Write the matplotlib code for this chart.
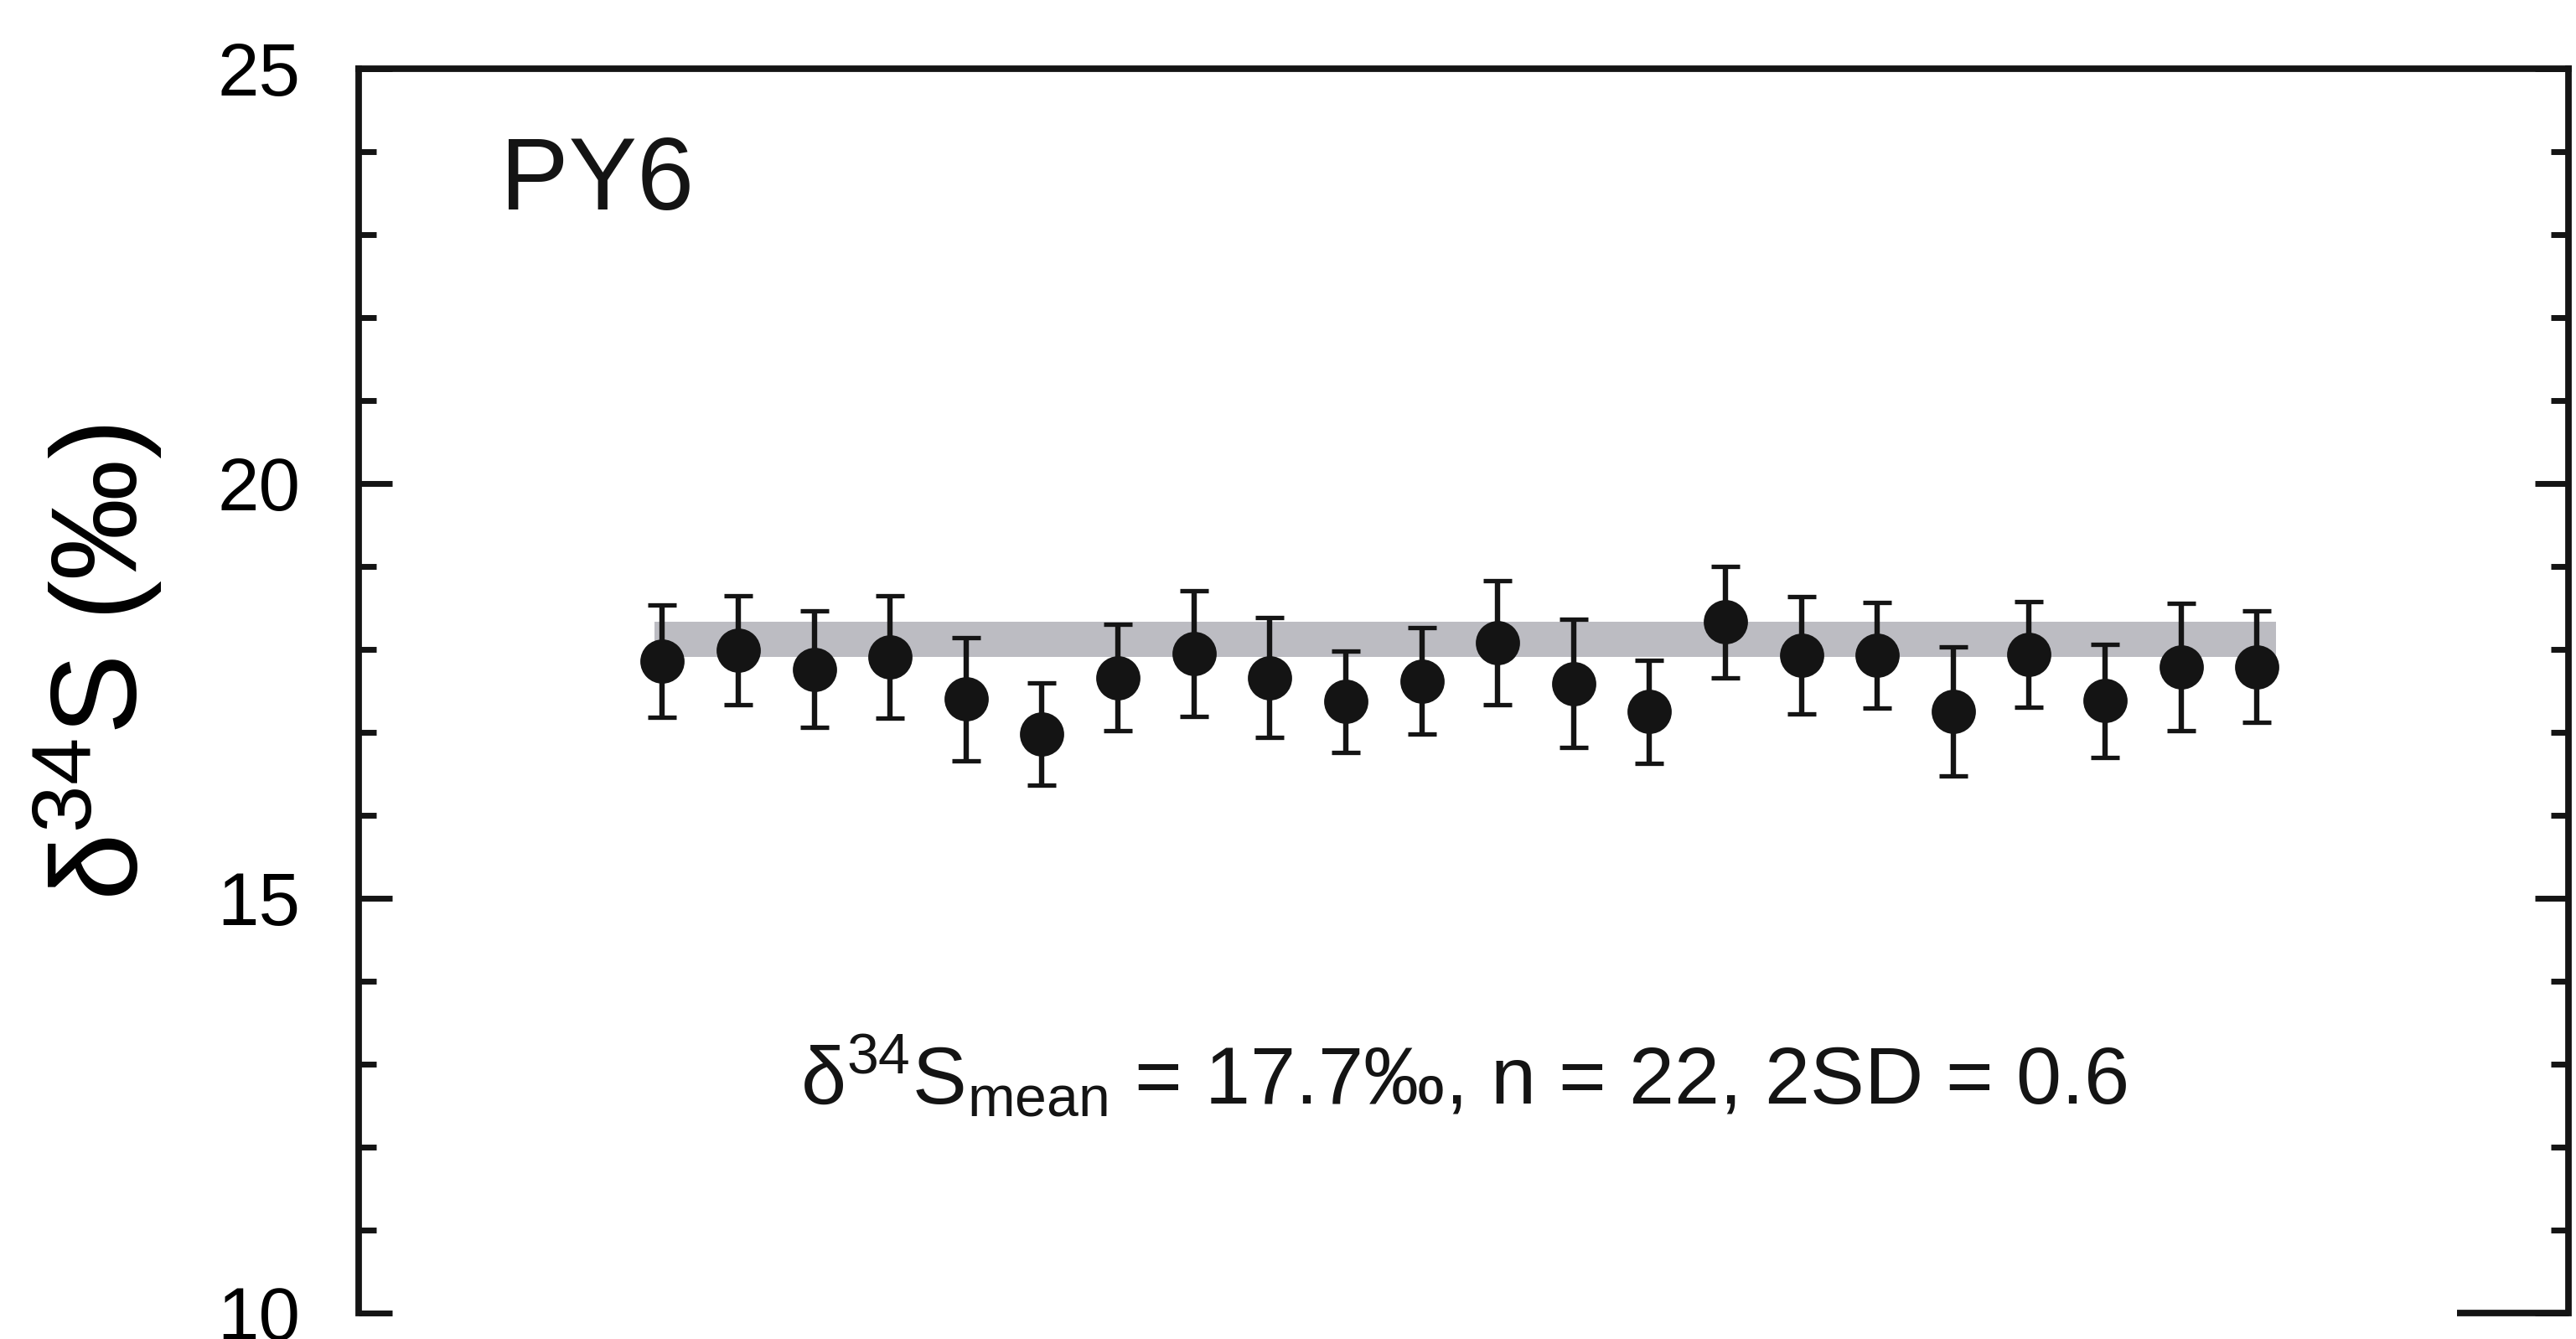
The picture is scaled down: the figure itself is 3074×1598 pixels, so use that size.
import numpy as np
import matplotlib
matplotlib.use('Agg')
import matplotlib.pyplot as plt

plt.rcParams['font.family'] = ['Liberation Sans', 'DejaVu Sans']
plt.rcParams['mathtext.default'] = 'regular'

# analysis number, d34S value and 2SD error
analysis = np.arange(1, 23)
d34s = [17.86, 17.99, 17.76, 17.91, 17.40, 16.98, 17.66, 17.95, 17.66, 17.37, 17.62,
        18.08, 17.59, 17.25, 18.33, 17.93, 17.93, 17.25, 17.94, 17.38, 17.79, 17.79]
err2sd = [0.68, 0.66, 0.70, 0.74, 0.74, 0.62, 0.64, 0.76, 0.72, 0.61, 0.64,
          0.75, 0.77, 0.62, 0.67, 0.71, 0.64, 0.78, 0.64, 0.68, 0.77, 0.67]

# grey reference band
band_lo, band_hi = 17.91, 18.33

sample_name = 'PY6'
summary = r'δ$^{34}$S$_{mean}$ = 17.7‰, n = 22, 2SD = 0.6'

fig = plt.figure(figsize=(15.37, 7.99), dpi=200)
ax = fig.add_axes([0.1392, 0.0194, 0.8578, 0.9293])

ax.fill_between([analysis[0] - 0.1, analysis[-1] + 0.25], band_lo, band_hi,
                color='#bcbcc2', lw=0, zorder=1)
ax.errorbar(analysis, d34s, yerr=err2sd, fmt='o', color='#141414', ms=18,
            capsize=6, capthick=1.9, elinewidth=2.3, zorder=3)

ax.set_xlim(-3, 26.1)
ax.set_ylim(10, 25)
ax.set_xticks([])
ax.set_yticks([10, 15, 20, 25])
ax.set_yticks(np.arange(10, 26, 1), minor=True)
ax.tick_params(axis='y', which='both', direction='in', right=True, left=True,
               labelright=False, width=2.5, color='#141414')
ax.tick_params(axis='y', which='major', length=14.4, pad=25, labelsize=32)
ax.tick_params(axis='y', which='minor', length=7.6)

for side in ['left', 'right', 'top']:
    ax.spines[side].set_linewidth(2.8)
    ax.spines[side].set_color('#141414')
ax.spines['bottom'].set_visible(False)
# only a short stub of the bottom frame is left on the right
ax.plot([0.9496, 1.0], [0, 0], transform=ax.transAxes, color='#141414',
        lw=2.8, clip_on=False, solid_capstyle='butt')

ax.set_ylabel('δ$^{34}$S (‰)', fontsize=52)
ax.yaxis.set_label_coords(-0.088, 0.523)

ax.text(0.064, 0.887, sample_name, transform=ax.transAxes, fontsize=44,
        ha='left', va='baseline', color='#141414')
ax.text(0.5, 0.168, summary, transform=ax.transAxes, fontsize=35,
        ha='center', va='baseline', color='#141414')

plt.savefig('out.png', dpi=200)
plt.close()
